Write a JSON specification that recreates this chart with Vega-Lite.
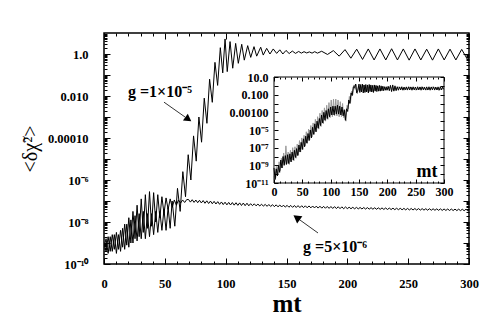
{
"$schema": "https://vega.github.io/schema/vega-lite/v6.json",
"width": 365, "height": 231,
"autosize": {"type": "none"},
"padding": {"left": 104, "top": 33, "right": 16, "bottom": 54},
"background": "white",
"config": {"view": {"stroke": "black", "strokeWidth": 1.5}},
"datasets": {
"A": [{"x":0,"y":6.3e-10},{"x":1.7,"y":1.6e-9},{"x":3.4,"y":3.2e-10},{"x":5.1,"y":2.0e-9},{"x":6.8,"y":4.0e-10},{"x":8.5,"y":2.5e-9},{"x":10.2,"y":3.2e-10},{"x":11.9,"y":2.5e-9},{"x":13.6,"y":4.0e-10},{"x":15.3,"y":5.0e-9},{"x":17.0,"y":5.0e-10},{"x":18.7,"y":7.9e-9},{"x":20.4,"y":6.3e-10},{"x":22.1,"y":1.26e-8},{"x":23.8,"y":1.0e-9},{"x":25.5,"y":2.0e-8},{"x":27.2,"y":1.26e-9},{"x":28.9,"y":2.5e-8},{"x":30.6,"y":1.6e-9},{"x":32.3,"y":3.2e-8},{"x":34.0,"y":1.6e-9},{"x":35.7,"y":2.5e-8},{"x":37.4,"y":2.0e-9},{"x":39.1,"y":2.5e-8},{"x":40.8,"y":2.5e-9},{"x":42.5,"y":3.2e-8},{"x":44.2,"y":3.2e-9},{"x":45.9,"y":3.2e-8},{"x":47.6,"y":4.0e-9},{"x":49.3,"y":4.0e-8},{"x":51.0,"y":4.0e-9},{"x":52.7,"y":5.0e-8},{"x":54.4,"y":5.0e-9},{"x":56.0,"y":1.0e-7},{"x":58.2,"y":6.3e-9},{"x":60.4,"y":4.0e-7},{"x":62.6,"y":3.2e-8},{"x":64.8,"y":2.5e-6},{"x":67.0,"y":1.6e-7},{"x":69.2,"y":1.6e-5},{"x":71.4,"y":1.0e-6},{"x":73.6,"y":1.26e-4},{"x":75.8,"y":7.9e-6},{"x":78.0,"y":1.0e-3},{"x":80.2,"y":6.3e-5},{"x":82.4,"y":7.9e-3},{"x":84.6,"y":5.0e-4},{"x":86.8,"y":6.3e-2},{"x":89.0,"y":5.0e-3},{"x":91.2,"y":0.40},{"x":93.4,"y":3.2e-2},{"x":95.6,"y":2.0},{"x":97.6,"y":0.126},{"x":99.5,"y":5.2},{"x":101.3,"y":0.145},{"x":103.6,"y":3.9},{"x":105.8,"y":0.21},{"x":108.2,"y":3.2},{"x":110.4,"y":0.36},{"x":113.2,"y":2.9},{"x":115.3,"y":0.51},{"x":118.1,"y":2.5},{"x":120.6,"y":0.69},{"x":123.3,"y":2.24},{"x":125.5,"y":0.79},{"x":128.8,"y":2.1},{"x":130.9,"y":0.89},{"x":133.7,"y":1.86},{"x":136.4,"y":1.0},{"x":139.1,"y":1.74},{"x":141.9,"y":1.07},{"x":144.5,"y":1.58},{"x":147.0,"y":1.0},{"x":149.6,"y":1.48},{"x":152.2,"y":1.05},{"x":154.8,"y":1.38},{"x":157.4,"y":1.07},{"x":160.0,"y":1.32},{"x":162.2,"y":1.10},{"x":164.4,"y":1.29},{"x":166.6,"y":1.12},{"x":168.8,"y":1.26},{"x":171.0,"y":1.10},{"x":173.2,"y":1.29},{"x":175.4,"y":1.10},{"x":178.9,"y":1.35},{"x":183.7,"y":0.95},{"x":188.5,"y":1.45},{"x":193.3,"y":0.79},{"x":198.1,"y":1.62},{"x":202.9,"y":0.63},{"x":207.7,"y":1.70},{"x":212.5,"y":0.55},{"x":217.2,"y":1.74},{"x":222.0,"y":0.52},{"x":226.8,"y":1.74},{"x":231.6,"y":0.52},{"x":236.4,"y":1.78},{"x":241.2,"y":0.52},{"x":246.0,"y":1.74},{"x":250.8,"y":0.51},{"x":255.6,"y":1.74},{"x":260.4,"y":0.52},{"x":265.2,"y":1.70},{"x":270.0,"y":0.51},{"x":274.8,"y":1.74},{"x":279.6,"y":0.52},{"x":284.4,"y":1.70},{"x":289.2,"y":0.52},{"x":294.0,"y":1.66},{"x":298.8,"y":0.54},{"x":300,"y":0.71}],
"B": [{"x":0,"y":1.0e-9},{"x":1.7,"y":4.0e-10},{"x":3.4,"y":2.0e-9},{"x":5.1,"y":4.0e-10},{"x":6.8,"y":2.5e-9},{"x":8.5,"y":5.0e-10},{"x":10.2,"y":3.2e-9},{"x":11.9,"y":5.0e-10},{"x":13.6,"y":4.0e-9},{"x":15.3,"y":6.3e-10},{"x":17.0,"y":7.9e-9},{"x":18.7,"y":7.9e-10},{"x":20.4,"y":1.6e-8},{"x":22.1,"y":1.0e-9},{"x":23.8,"y":3.2e-8},{"x":25.5,"y":1.6e-9},{"x":27.2,"y":6.3e-8},{"x":28.9,"y":2.0e-9},{"x":30.6,"y":1.26e-7},{"x":32.3,"y":3.2e-9},{"x":34.0,"y":2.0e-7},{"x":35.7,"y":5.0e-9},{"x":37.4,"y":2.8e-7},{"x":39.1,"y":6.3e-9},{"x":40.8,"y":2.5e-7},{"x":42.5,"y":1.0e-8},{"x":44.2,"y":2.0e-7},{"x":45.9,"y":1.6e-8},{"x":47.6,"y":1.6e-7},{"x":49.3,"y":2.5e-8},{"x":51.0,"y":1.4e-7},{"x":52.7,"y":4.0e-8},{"x":54.4,"y":1.26e-7},{"x":56.1,"y":5.0e-8},{"x":57.8,"y":1.12e-7},{"x":59.5,"y":6.3e-8},{"x":61.2,"y":1.12e-7},{"x":62.9,"y":7.9e-8},{"x":64.6,"y":1.12e-7},{"x":66.3,"y":8.5e-8},{"x":68.0,"y":1.17e-7},
{"x":69.5,"y":1.18e-7},{"x":71,"y":8.85e-8},{"x":72.5,"y":1.15e-7},{"x":74,"y":8.6e-8},{"x":75.5,"y":1.11e-7},{"x":77,"y":8.3e-8},{"x":78.5,"y":1.08e-7},{"x":80,"y":8.1e-8},{"x":81.5,"y":1.05e-7},{"x":83,"y":7.8e-8},{"x":84.5,"y":1.02e-7},{"x":86,"y":7.6e-8},{"x":87.5,"y":9.9e-8},{"x":89,"y":7.4e-8},{"x":90.5,"y":9.6e-8},{"x":92,"y":7.2e-8},{"x":93.5,"y":9.3e-8},{"x":95,"y":6.95e-8},{"x":96.5,"y":9.0e-8},{"x":98,"y":6.75e-8},{"x":99.5,"y":8.75e-8},{"x":101,"y":6.56e-8},{"x":102.5,"y":8.57e-8},{"x":104,"y":6.46e-8},{"x":105.5,"y":8.43e-8},{"x":107,"y":6.34e-8},{"x":108.5,"y":8.28e-8},{"x":110,"y":6.22e-8},{"x":111.5,"y":8.13e-8},{"x":113,"y":6.11e-8},{"x":114.5,"y":7.98e-8},{"x":116,"y":6.0e-8},{"x":117.5,"y":7.83e-8},{"x":119,"y":5.9e-8},{"x":120.5,"y":7.45e-8},{"x":122,"y":6.0e-8},{"x":123.5,"y":7.31e-8},{"x":125,"y":5.89e-8},{"x":126.5,"y":7.18e-8},{"x":128,"y":5.78e-8},{"x":129.5,"y":7.05e-8},{"x":131,"y":5.68e-8},{"x":132.5,"y":6.92e-8},{"x":134,"y":5.58e-8},{"x":135.5,"y":6.81e-8},{"x":137,"y":5.48e-8},{"x":138.5,"y":6.68e-8},{"x":140,"y":5.38e-8},{"x":141.5,"y":6.56e-8},{"x":143,"y":5.28e-8},{"x":144.5,"y":6.44e-8},{"x":146,"y":5.19e-8},{"x":147.5,"y":6.34e-8},{"x":149,"y":5.11e-8},{"x":150.5,"y":6.22e-8},{"x":152,"y":5.04e-8},{"x":153.5,"y":6.15e-8},{"x":155,"y":4.98e-8},{"x":156.5,"y":6.10e-8},{"x":158,"y":4.92e-8},{"x":159.5,"y":6.03e-8},{"x":161,"y":4.86e-8},{"x":162.5,"y":5.96e-8},{"x":164,"y":4.82e-8},{"x":165.5,"y":5.89e-8},{"x":167,"y":4.76e-8},{"x":168.5,"y":5.82e-8},{"x":170,"y":4.71e-8},{"x":171.5,"y":5.77e-8},{"x":173,"y":4.66e-8},{"x":174.5,"y":5.70e-8},{"x":176,"y":4.60e-8},{"x":177.5,"y":5.64e-8},{"x":179,"y":4.56e-8},{"x":180.5,"y":5.57e-8},{"x":182,"y":4.51e-8},{"x":183.5,"y":5.51e-8},{"x":185,"y":4.46e-8},{"x":186.5,"y":5.46e-8},{"x":188,"y":4.41e-8},{"x":189.5,"y":5.40e-8},{"x":191,"y":4.36e-8},{"x":192.5,"y":5.33e-8},{"x":194,"y":4.32e-8},{"x":195.5,"y":5.27e-8},{"x":197,"y":4.27e-8},{"x":198.5,"y":5.21e-8},{"x":200,"y":4.32e-8},{"x":201.5,"y":5.05e-8},{"x":203,"y":4.28e-8},{"x":204.5,"y":5.01e-8},{"x":206,"y":4.25e-8},{"x":207.5,"y":4.97e-8},{"x":209,"y":4.21e-8},{"x":210.5,"y":4.92e-8},{"x":212,"y":4.18e-8},{"x":213.5,"y":4.89e-8},{"x":215,"y":4.14e-8},{"x":216.5,"y":4.84e-8},{"x":218,"y":4.10e-8},{"x":219.5,"y":4.81e-8},{"x":221,"y":4.07e-8},{"x":222.5,"y":4.76e-8},{"x":224,"y":4.04e-8},{"x":225.5,"y":4.72e-8},{"x":227,"y":4.01e-8},{"x":228.5,"y":4.69e-8},{"x":230,"y":3.97e-8},{"x":231.5,"y":4.65e-8},{"x":233,"y":3.94e-8},{"x":234.5,"y":4.61e-8},{"x":236,"y":3.91e-8},{"x":237.5,"y":4.57e-8},{"x":239,"y":3.87e-8},{"x":240.5,"y":4.53e-8},{"x":242,"y":3.85e-8},{"x":243.5,"y":4.50e-8},{"x":245,"y":3.81e-8},{"x":246.5,"y":4.46e-8},{"x":248,"y":3.78e-8},{"x":249.5,"y":4.43e-8},{"x":251,"y":3.75e-8},{"x":252.5,"y":4.40e-8},{"x":254,"y":3.73e-8},{"x":255.5,"y":4.38e-8},{"x":257,"y":3.71e-8},{"x":258.5,"y":4.35e-8},{"x":260,"y":3.69e-8},{"x":261.5,"y":4.33e-8},{"x":263,"y":3.67e-8},{"x":264.5,"y":4.30e-8},{"x":266,"y":3.65e-8},{"x":267.5,"y":4.28e-8},{"x":269,"y":3.63e-8},{"x":270.5,"y":4.26e-8},{"x":272,"y":3.61e-8},{"x":273.5,"y":4.23e-8},{"x":275,"y":3.59e-8},{"x":276.5,"y":4.21e-8},{"x":278,"y":3.57e-8},{"x":279.5,"y":4.18e-8},{"x":281,"y":3.55e-8},{"x":282.5,"y":4.16e-8},{"x":284,"y":3.53e-8},{"x":285.5,"y":4.14e-8},{"x":287,"y":3.51e-8},{"x":288.5,"y":4.11e-8},{"x":290,"y":3.49e-8},{"x":291.5,"y":4.09e-8},{"x":293,"y":3.48e-8},{"x":294.5,"y":4.06e-8},{"x":296,"y":3.45e-8},{"x":297.5,"y":4.05e-8},{"x":299,"y":3.44e-8},{"x":300,"y":3.72e-8}],
"IB": [{"x":0,"y":5.0e-10},{"x":2,"y":2.5e-11},{"x":4,"y":4.0e-10},{"x":6,"y":6.3e-11},{"x":8,"y":1.0e-9},{"x":10,"y":1.6e-10},{"x":12,"y":4.0e-9},{"x":14,"y":5.0e-10},{"x":16,"y":1.0e-8},{"x":18,"y":1.0e-9},{"x":20,"y":1.26e-8},{"x":22,"y":1.26e-9},{"x":24,"y":1.6e-8},{"x":26,"y":1.6e-9},{"x":28,"y":2.0e-8},{"x":30,"y":2.5e-9},{"x":32,"y":3.2e-8},{"x":34,"y":4.0e-9},{"x":36,"y":5.0e-8},{"x":38,"y":7.9e-9},{"x":40,"y":7.9e-8},{"x":42,"y":1.26e-8},{"x":44,"y":2.0e-7},{"x":46,"y":3.2e-8},{"x":48,"y":4.0e-7},{"x":50,"y":6.3e-8},{"x":52,"y":1.0e-6},{"x":54,"y":1.26e-7},{"x":56,"y":2.0e-6},{"x":58,"y":3.2e-7},{"x":60,"y":4.0e-6},{"x":62,"y":6.3e-7},{"x":64,"y":1.0e-5},{"x":66,"y":1.26e-6},{"x":68,"y":2.0e-5},{"x":70,"y":3.2e-6},{"x":72,"y":5.0e-5},{"x":74,"y":6.3e-6},{"x":76,"y":1.0e-4},{"x":78,"y":1.6e-5},{"x":80,"y":2.0e-4},{"x":82,"y":3.2e-5},{"x":84,"y":5.0e-4},{"x":86,"y":6.3e-5},{"x":88,"y":1.0e-3},{"x":90,"y":1.26e-4},{"x":92,"y":1.6e-3},{"x":94,"y":2.0e-4},{"x":96,"y":2.5e-3},{"x":98,"y":3.2e-4},{"x":100,"y":4.0e-3},{"x":102,"y":5.0e-4},{"x":104,"y":5.0e-3},{"x":106,"y":5.0e-4},{"x":108,"y":5.0e-3},{"x":110,"y":6.3e-4},{"x":112,"y":6.3e-3},{"x":114,"y":6.3e-4},{"x":116,"y":5.0e-3},{"x":118,"y":5.0e-4},{"x":120,"y":4.0e-3},{"x":122,"y":4.0e-4},{"x":124,"y":2.0e-3},{"x":126,"y":1.26e-4},{"x":128,"y":2.5e-3},{"x":130,"y":1.26e-3},{"x":132,"y":2.5e-2},{"x":134,"y":1.0e-2},{"x":136,"y":0.16},{"x":138,"y":0.079},{"x":140,"y":0.79},{"x":142,"y":0.63},{"x":144,"y":1.58},{"x":146,"y":0.16},{"x":148,"y":0.32},{"x":150,"y":1.58},{"x":151.5,"y":0.178},{"x":153,"y":1.41},{"x":154.5,"y":0.2},{"x":156,"y":1.58},{"x":157.5,"y":0.158},{"x":159,"y":1.26},{"x":160.5,"y":0.178},{"x":162,"y":1.41},{"x":163.5,"y":0.2},{"x":165,"y":1.26},{"x":166.5,"y":0.158},{"x":168,"y":1.41},{"x":169.5,"y":0.224},{"x":171,"y":1.26},{"x":172.5,"y":0.2},{"x":174,"y":1.12},{"x":175.5,"y":0.178},{"x":177,"y":1.26},{"x":178.5,"y":0.25},{"x":180,"y":1.12},{"x":181.5,"y":0.224},{"x":183,"y":1.0},{"x":184.5,"y":0.25},{"x":186,"y":1.12},{"x":187.5,"y":0.25},{"x":189,"y":1.0},{"x":190.5,"y":0.28},{"x":192,"y":0.89},{"x":193.5,"y":0.28},{"x":195,"y":0.79},{"x":196.5,"y":0.32},{"x":198,"y":0.79},{"x":199.5,"y":0.32},{"x":201.5,"y":0.89},{"x":203.5,"y":0.28},{"x":205.5,"y":1.12},{"x":207.5,"y":0.224},{"x":209.5,"y":1.26},{"x":211.5,"y":0.25},{"x":213.5,"y":1.0},{"x":215.5,"y":0.28},{"x":217.5,"y":0.79},{"x":219.5,"y":0.32},{"x":221.5,"y":0.76},{"x":223.5,"y":0.34},{"x":225.5,"y":0.79},{"x":227.5,"y":0.32},{"x":229.5,"y":0.74},{"x":231.5,"y":0.35},{"x":233.5,"y":0.76},{"x":235.5,"y":0.33},{"x":237.5,"y":0.78},{"x":239.5,"y":0.34},{"x":241.5,"y":0.75},{"x":243.5,"y":0.32},{"x":245.5,"y":0.77},{"x":247.5,"y":0.35},{"x":249.5,"y":0.74},{"x":251.5,"y":0.33},{"x":253.5,"y":0.78},{"x":255.5,"y":0.34},{"x":257.5,"y":0.75},{"x":259.5,"y":0.32},{"x":261.5,"y":0.77},{"x":263.5,"y":0.35},{"x":265.5,"y":0.74},{"x":267.5,"y":0.33},{"x":269.5,"y":0.76},{"x":271.5,"y":0.34},{"x":273.5,"y":0.78},{"x":275.5,"y":0.32},{"x":277.5,"y":0.75},{"x":279.5,"y":0.35},{"x":281.5,"y":0.77},{"x":283.5,"y":0.33},{"x":285.5,"y":0.74},{"x":287.5,"y":0.34},{"x":289.5,"y":0.76},{"x":291.5,"y":0.32},{"x":293.5,"y":0.78},{"x":295.5,"y":0.35},{"x":297.5,"y":0.75},{"x":299.5,"y":0.4}],
"IG": [{"x":0,"y":6.3e-11},{"x":1,"y":1.0e-9},{"x":3,"y":4.0e-11},{"x":5,"y":7.9e-10},{"x":7,"y":1.0e-10},{"x":9,"y":2.5e-9},{"x":11,"y":2.5e-10},{"x":13,"y":6.3e-9},{"x":15,"y":5.0e-10},{"x":17,"y":2.5e-8},{"x":19,"y":1.26e-9},{"x":21,"y":1.6e-7},{"x":23,"y":1.6e-9},{"x":25,"y":3.2e-8},{"x":27,"y":1.26e-9},{"x":29,"y":5.0e-8},{"x":31,"y":2.5e-9},{"x":33,"y":1.0e-7},{"x":35,"y":3.2e-9},{"x":37,"y":1.26e-7},{"x":39,"y":6.3e-9},{"x":41,"y":2.5e-7},{"x":43,"y":1.6e-8},{"x":45,"y":6.3e-7},{"x":47,"y":3.2e-8},{"x":49,"y":1.26e-6},{"x":51,"y":6.3e-8},{"x":53,"y":2.5e-6},{"x":55,"y":1.6e-7},{"x":57,"y":6.3e-6},{"x":59,"y":3.2e-7},{"x":61,"y":1.26e-5},{"x":63,"y":7.9e-7},{"x":65,"y":3.2e-5},{"x":67,"y":1.6e-6},{"x":69,"y":6.3e-5},{"x":71,"y":3.2e-6},{"x":73,"y":1.6e-4},{"x":75,"y":6.3e-6},{"x":77,"y":3.2e-4},{"x":79,"y":1.26e-5},{"x":81,"y":7.9e-4},{"x":83,"y":2.5e-5},{"x":85,"y":1.6e-3},{"x":87,"y":5.0e-5},{"x":89,"y":3.2e-3},{"x":91,"y":1.0e-4},{"x":93,"y":6.3e-3},{"x":95,"y":1.6e-4},{"x":97,"y":1.26e-2},{"x":99,"y":2.5e-4},{"x":101,"y":2.5e-2},{"x":103,"y":3.2e-4},{"x":105,"y":3.2e-2},{"x":107,"y":4.0e-4},{"x":109,"y":3.2e-2},{"x":111,"y":4.0e-4},{"x":113,"y":2.5e-2},{"x":115,"y":3.2e-4},{"x":117,"y":1.6e-2},{"x":119,"y":3.2e-4},{"x":121,"y":1.0e-2},{"x":123,"y":2.5e-4},{"x":125,"y":1.6e-3},{"x":127,"y":1.0e-4},{"x":129,"y":6.3e-3},{"x":131,"y":2.5e-3},{"x":133,"y":6.3e-2},{"x":135,"y":1.26e-2},{"x":137,"y":0.25},{"x":139,"y":0.1},{"x":141,"y":1.26},{"x":143,"y":0.4},{"x":145,"y":1.41},{"x":147,"y":0.126},{"x":149,"y":1.0},{"x":151,"y":0.25},{"x":157,"y":1.26},{"x":163,"y":0.2},{"x":169,"y":1.12},{"x":175,"y":0.25},{"x":181,"y":1.0},{"x":187,"y":0.28},{"x":193,"y":0.79},{"x":199,"y":0.32},{"x":205,"y":0.79},{"x":211,"y":0.32},{"x":220,"y":0.71},{"x":230,"y":0.35},{"x":240,"y":0.71},{"x":250,"y":0.35},{"x":260,"y":0.71},{"x":270,"y":0.35},{"x":280,"y":0.71},{"x":290,"y":0.35},{"x":300,"y":0.5}]
},
"layer": [
{
"layer": [
{"data": {"name": "A"}, "mark": {"type": "line", "color": "black", "strokeWidth": 1, "clip": true},
 "encoding": {
  "x": {"field": "x", "type": "quantitative", "scale": {"domain": [0, 300], "nice": false, "zero": false},
   "axis": {"orient": "bottom", "values": [0,50,100,150,200,250,300], "tickSize": -6, "tickColor": "black", "domain": false, "grid": false, "labelFont": "Liberation Serif", "labelFontWeight": "bold", "labelFontSize": 12.5, "labelColor": "black", "labelPadding": 19, "labelOverlap": false, "labelFlush": false, "title": "mt", "titleFont": "Liberation Serif", "titleFontSize": 25, "titleFontWeight": "bold", "titleColor": "black", "titlePadding": 2, "zindex": 1}},
  "y": {"field": "y", "type": "quantitative", "scale": {"type": "log", "domain": [1e-10, 10], "nice": false},
   "axis": {"orient": "left", "values": [1e-10,1e-9,1e-8,1e-7,1e-6,1e-5,1e-4,1e-3,1e-2,1e-1,1], "tickSize": -6, "tickColor": "black", "domain": false, "grid": false, "labelFont": "Liberation Serif", "labelFontWeight": "bold", "labelFontSize": 12.5, "labelColor": "black", "labelPadding": 22, "labelOverlap": false, "labelFlush": false, "labelBaseline": "middle",
    "labelExpr": "round(log(datum.value)/LN10) == 0 ? '1.0' : round(log(datum.value)/LN10) == -2 ? '0.010' : round(log(datum.value)/LN10) == -4 ? '0.00010' : round(log(datum.value)/LN10) == -6 ? '10⁻⁶' : round(log(datum.value)/LN10) == -8 ? '10⁻⁸' : round(log(datum.value)/LN10) == -10 ? '10⁻¹⁰' : ''",
    "title": "<δχ̃²>", "titleFont": "Liberation Serif", "titleFontSize": 20, "titleFontWeight": "normal", "titleColor": "black", "titlePadding": 7, "zindex": 1}}
 }},
{"data": {"name": "B"}, "mark": {"type": "line", "color": "black", "strokeWidth": 1, "clip": true},
 "encoding": {
  "x": {"field": "x", "type": "quantitative", "scale": {"domain": [0, 300], "nice": false, "zero": false},
   "axis": {"orient": "top", "values": [0,50,100,150,200,250,300], "tickSize": -6, "tickColor": "black", "domain": false, "grid": false, "labels": false, "title": null, "zindex": 1}},
  "y": {"field": "y", "type": "quantitative", "scale": {"type": "log", "domain": [1e-10, 10], "nice": false},
   "axis": {"orient": "right", "values": [1e-10,1e-9,1e-8,1e-7,1e-6,1e-5,1e-4,1e-3,1e-2,1e-1,1], "tickSize": -6, "tickColor": "black", "domain": false, "grid": false, "labels": false, "title": null, "zindex": 1}}
 }},
{"data": {"values": [{}]}, "mark": {"type": "rule", "color": "black", "strokeWidth": 0.8},
 "encoding": {
  "x": {"datum": 49.3, "type": "quantitative", "scale": {"domain": [0, 300], "nice": false, "zero": false},
   "axis": {"orient": "bottom", "values": [10,20,30,40,60,70,80,90,110,120,130,140,160,170,180,190,210,220,230,240,260,270,280,290], "tickSize": -3, "tickColor": "black", "domain": false, "grid": false, "labels": false, "title": null, "zindex": 1}},
  "y": {"datum": 5.1e-3, "type": "quantitative", "scale": {"type": "log", "domain": [1e-10, 10], "nice": false},
   "axis": {"orient": "left", "values": [2e-10,3e-10,4e-10,5e-10,6e-10,7e-10,8e-10,9e-10,2e-9,3e-9,4e-9,5e-9,6e-9,7e-9,8e-9,9e-9,2e-8,3e-8,4e-8,5e-8,6e-8,7e-8,8e-8,9e-8,2e-7,3e-7,4e-7,5e-7,6e-7,7e-7,8e-7,9e-7,2e-6,3e-6,4e-6,5e-6,6e-6,7e-6,8e-6,9e-6,2e-5,3e-5,4e-5,5e-5,6e-5,7e-5,8e-5,9e-5,2e-4,3e-4,4e-4,5e-4,6e-4,7e-4,8e-4,9e-4,0.002,0.003,0.004,0.005,0.006,0.007,0.008,0.009,0.02,0.03,0.04,0.05,0.06,0.07,0.08,0.09,0.2,0.3,0.4,0.5,0.6,0.7,0.8,0.9,2,3,4,5,6,7,8,9], "tickSize": -3, "tickColor": "black", "domain": false, "grid": false, "labels": false, "title": null, "zindex": 1}},
  "x2": {"datum": 66.6},
  "y2": {"datum": 1.0e-3}
 }},
{"data": {"values": [{}]}, "mark": {"type": "rule", "color": "black", "strokeWidth": 0.8},
 "encoding": {
  "x": {"datum": 175.9, "type": "quantitative", "scale": {"domain": [0, 300], "nice": false, "zero": false},
   "axis": {"orient": "top", "values": [10,20,30,40,60,70,80,90,110,120,130,140,160,170,180,190,210,220,230,240,260,270,280,290], "tickSize": -3, "tickColor": "black", "domain": false, "grid": false, "labels": false, "title": null, "zindex": 1}},
  "y": {"datum": 3.0e-9, "type": "quantitative", "scale": {"type": "log", "domain": [1e-10, 10], "nice": false},
   "axis": {"orient": "right", "values": [2e-10,3e-10,4e-10,5e-10,6e-10,7e-10,8e-10,9e-10,2e-9,3e-9,4e-9,5e-9,6e-9,7e-9,8e-9,9e-9,2e-8,3e-8,4e-8,5e-8,6e-8,7e-8,8e-8,9e-8,2e-7,3e-7,4e-7,5e-7,6e-7,7e-7,8e-7,9e-7,2e-6,3e-6,4e-6,5e-6,6e-6,7e-6,8e-6,9e-6,2e-5,3e-5,4e-5,5e-5,6e-5,7e-5,8e-5,9e-5,2e-4,3e-4,4e-4,5e-4,6e-4,7e-4,8e-4,9e-4,0.002,0.003,0.004,0.005,0.006,0.007,0.008,0.009,0.02,0.03,0.04,0.05,0.06,0.07,0.08,0.09,0.2,0.3,0.4,0.5,0.6,0.7,0.8,0.9,2,3,4,5,6,7,8,9], "tickSize": -3, "tickColor": "black", "domain": false, "grid": false, "labels": false, "title": null, "zindex": 1}},
  "x2": {"datum": 159.9},
  "y2": {"datum": 1.39e-8}
 }},
{"data": {"values": [{}]}, "mark": {"type": "point", "shape": "triangle-right", "filled": true, "color": "black", "opacity": 1, "size": 70, "angle": 35.5},
 "encoding": {
  "x": {"datum": 69.3, "type": "quantitative", "scale": {"domain": [0, 300], "nice": false, "zero": false}, "axis": null},
  "y": {"datum": 7.8e-4, "type": "quantitative", "scale": {"type": "log", "domain": [1e-10, 10], "nice": false}, "axis": null}
 }},
{"data": {"values": [{}]}, "mark": {"type": "point", "shape": "triangle-right", "filled": true, "color": "black", "opacity": 1, "size": 80, "angle": 215.7},
 "encoding": {
  "x": {"datum": 158.3, "type": "quantitative", "scale": {"domain": [0, 300], "nice": false, "zero": false}, "axis": null},
  "y": {"datum": 1.62e-8, "type": "quantitative", "scale": {"type": "log", "domain": [1e-10, 10], "nice": false}, "axis": null}
 }},
{"data": {"values": [{}]}, "mark": {"type": "text", "text": "g =1×10⁻⁵", "align": "left", "baseline": "alphabetic", "font": "Liberation Serif", "fontSize": 16, "fontWeight": "bold", "color": "black"},
 "encoding": {
  "x": {"datum": 19.7, "type": "quantitative", "scale": {"domain": [0, 300], "nice": false, "zero": false}, "axis": null},
  "y": {"datum": 8.9e-3, "type": "quantitative", "scale": {"type": "log", "domain": [1e-10, 10], "nice": false}, "axis": null}
 }},
{"data": {"values": [{}]}, "mark": {"type": "text", "text": "g =5×10⁻⁶", "align": "left", "baseline": "alphabetic", "font": "Liberation Serif", "fontSize": 16, "fontWeight": "bold", "color": "black"},
 "encoding": {
  "x": {"datum": 163.6, "type": "quantitative", "scale": {"domain": [0, 300], "nice": false, "zero": false}, "axis": null},
  "y": {"datum": 3.7e-10, "type": "quantitative", "scale": {"type": "log", "domain": [1e-10, 10], "nice": false}, "axis": null}
 }}
],
"resolve": {"axis": {"x": "independent", "y": "independent"}}
},
{
"layer": [
{"data": {"values": [{}]}, "mark": {"type": "rect", "fill": "white", "stroke": "black", "strokeWidth": 1},
 "encoding": {
  "x": {"datum": 0, "type": "quantitative", "scale": {"domain": [0, 300], "range": [170, 340], "nice": false, "zero": false},
   "axis": {"orient": "top", "offset": -44, "values": [10,20,30,40,60,70,80,90,110,120,130,140,160,170,180,190,210,220,230,240,260,270,280,290], "tickSize": -2, "tickColor": "black", "domain": false, "grid": false, "labels": false, "title": null, "zindex": 1}},
  "x2": {"datum": 300},
  "y": {"datum": 1e-11, "type": "quantitative", "scale": {"type": "log", "domain": [1e-11, 10], "range": [150, 44], "nice": false}, "axis": null},
  "y2": {"datum": 10}
 }},
{"data": {"name": "IG"}, "mark": {"type": "line", "color": "#999999", "strokeWidth": 1},
 "encoding": {
  "x": {"field": "x", "type": "quantitative", "scale": {"domain": [0, 300], "range": [170, 340], "nice": false, "zero": false},
   "axis": {"orient": "top", "offset": -44, "values": [0,50,100,150,200,250,300], "tickSize": -4, "tickColor": "black", "domain": false, "grid": false, "labels": false, "title": null, "zindex": 1}},
  "y": {"field": "y", "type": "quantitative", "scale": {"type": "log", "domain": [1e-11, 10], "range": [150, 44], "nice": false},
   "axis": {"orient": "right", "offset": -25, "values": [1e-11,1e-10,1e-9,1e-8,1e-7,1e-6,1e-5,1e-4,1e-3,1e-2,1e-1,1,10], "tickSize": -4, "tickColor": "black", "domain": false, "grid": false, "labels": false, "title": null, "zindex": 1}}
 }},
{"data": {"name": "IB"}, "mark": {"type": "line", "color": "black", "strokeWidth": 1},
 "encoding": {
  "x": {"field": "x", "type": "quantitative", "scale": {"domain": [0, 300], "range": [170, 340], "nice": false, "zero": false},
   "axis": {"orient": "bottom", "offset": -81, "values": [0,50,100,150,200,250,300], "tickSize": -4, "tickColor": "black", "domain": false, "grid": false, "labelFont": "Liberation Serif", "labelFontWeight": "bold", "labelFontSize": 12, "labelColor": "black", "labelPadding": 7, "labelOverlap": false, "labelFlush": false, "title": null, "zindex": 1}},
  "y": {"field": "y", "type": "quantitative", "scale": {"type": "log", "domain": [1e-11, 10], "range": [150, 44], "nice": false},
   "axis": {"orient": "left", "offset": -170, "values": [1e-11,1e-10,1e-9,1e-8,1e-7,1e-6,1e-5,1e-4,1e-3,1e-2,1e-1,1,10], "tickSize": -4, "tickColor": "black", "domain": false, "grid": false, "labelFont": "Liberation Serif", "labelFontWeight": "bold", "labelFontSize": 12, "labelColor": "black", "labelPadding": 10, "labelOverlap": false, "labelFlush": false, "labelBaseline": "middle",
    "labelExpr": "round(log(datum.value)/LN10) == 1 ? '10.0' : round(log(datum.value)/LN10) == -1 ? '0.100' : round(log(datum.value)/LN10) == -3 ? '0.00100' : round(log(datum.value)/LN10) == -5 ? '10⁻⁵' : round(log(datum.value)/LN10) == -7 ? '10⁻⁷' : round(log(datum.value)/LN10) == -9 ? '10⁻⁹' : round(log(datum.value)/LN10) == -11 ? '10⁻¹¹' : ''",
    "title": null, "zindex": 1}}
 }},
{"data": {"values": [{}]}, "mark": {"type": "text", "text": "mt", "align": "center", "baseline": "middle", "font": "Liberation Serif", "fontSize": 18, "fontWeight": "bold", "color": "black"},
 "encoding": {
  "x": {"datum": 270, "type": "quantitative", "scale": {"domain": [0, 300], "range": [170, 340], "nice": false, "zero": false},
   "axis": {"orient": "bottom", "offset": -81, "values": [10,20,30,40,60,70,80,90,110,120,130,140,160,170,180,190,210,220,230,240,260,270,280,290], "tickSize": -2, "tickColor": "black", "domain": false, "grid": false, "labels": false, "title": null, "zindex": 1}},
  "y": {"datum": 1.7e-10, "type": "quantitative", "scale": {"type": "log", "domain": [1e-11, 10], "range": [150, 44], "nice": false}, "axis": null}
 }}
],
"resolve": {"axis": {"x": "independent", "y": "independent"}}
}
],
"resolve": {"scale": {"x": "independent", "y": "independent"}, "axis": {"x": "independent", "y": "independent"}}
}
